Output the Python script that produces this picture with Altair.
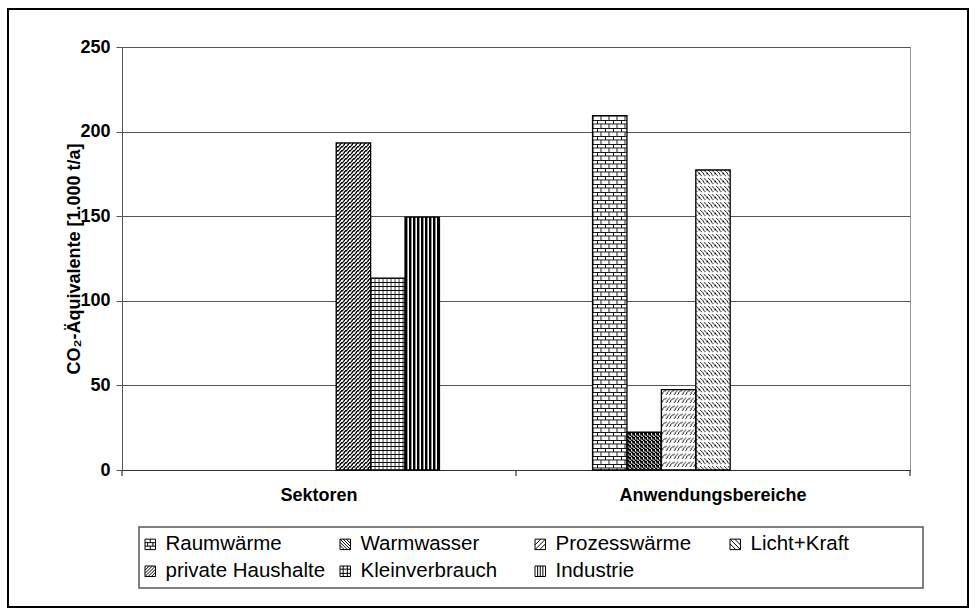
import altair as alt
import pandas as pd
from urllib.parse import quote

# ---------------- data ----------------
categories = ["Sektoren", "Anwendungsbereiche"]
series = ["Raumwärme", "Warmwasser", "Prozesswärme", "Licht+Kraft",
          "private Haushalte", "Kleinverbrauch", "Industrie"]
sektoren_values = [None, None, None, None, 193.3, 113.4, 149.5]
anwendung_values = [209.5, 22.3, 47.5, 177.3, None, None, None]
y_ticks = [0, 50, 100, 150, 200, 250]
y_title = "CO₂-Äquivalente [1.000 t/a]"

# ---------------- styles (pattern fills) ----------------
def tile_url(size, black):
    path = "".join(f"M{x} {y}h1v1h-1z" for x, y in black)
    svg = ("<svg xmlns='http://www.w3.org/2000/svg' width='100%' height='100%' shape-rendering='crispEdges'>"
           f"<defs><pattern id='p' width='{size}' height='{size}' patternUnits='userSpaceOnUse'>"
           f"<rect width='{size}' height='{size}' fill='white'/><path d='{path}' fill='black'/></pattern></defs>"
           "<rect width='100%' height='100%' fill='url(#p)'/></svg>")
    return "data:image/svg+xml;charset=utf-8," + quote(svg)

def px(n, cond):
    return [(x, y) for x in range(n) for y in range(n) if cond(x, y)]

brick = [(x, 0) for x in range(8)] + [(x, 4) for x in range(8)] + \
        [(0, 1), (0, 2), (0, 3), (4, 5), (4, 6), (4, 7)]

pattern_url = {
    "Raumwärme": tile_url(8, brick),
    "Warmwasser": tile_url(4, px(4, lambda x, y: (x - y) % 4 in (0, 1) or (x + y) % 4 == 0)),
    "Prozesswärme": tile_url(8, px(8, lambda x, y: (x + y) % 4 == 0 and y % 8 < 5)),
    "Licht+Kraft": tile_url(8, px(8, lambda x, y: (x - y) % 4 == 0 and y % 8 < 6)),
    "private Haushalte": tile_url(4, px(4, lambda x, y: (x + y) % 4 in (0, 1))),
    "Kleinverbrauch": tile_url(4, px(4, lambda x, y: x % 4 == 0 or y % 4 == 0)),
    "Industrie": tile_url(4, px(4, lambda x, y: x % 4 in (0, 1))),
}

# legend swatch shapes (SVG paths in the unit square [-1, 1])
SQUARE = "M-1,-1L1,-1L1,1L-1,1Z"

def down_lines(cs):
    out = ""
    for c in cs:
        y0, y1 = max(-1, -1 - c), min(1, 1 - c)
        out += f"M{y0 + c:.2f},{y0:.2f}L{y1 + c:.2f},{y1:.2f}"
    return out

def up_lines(cs):
    out = ""
    for c in cs:
        y0, y1 = max(-1, c - 1), min(1, c + 1)
        out += f"M{c - y0:.2f},{y0:.2f}L{c - y1:.2f},{y1:.2f}"
    return out

def vlines(xs):
    return "".join(f"M{x},-1L{x},1" for x in xs)

def hlines(ys):
    return "".join(f"M-1,{y}L1,{y}" for y in ys)

legend_shape = {
    "Raumwärme": SQUARE + hlines([-0.33, 0.33]) + "M0,-1L0,-0.33M-0.5,-0.33L-0.5,0.33M0.5,-0.33L0.5,0.33M0,0.33L0,1",
    "Warmwasser": SQUARE + down_lines([-1.2, -0.6, 0.0, 0.6, 1.2]),
    "Prozesswärme": SQUARE + up_lines([-0.9, 0.0, 0.9]),
    "Licht+Kraft": SQUARE + down_lines([-0.9, 0.0, 0.9]),
    "private Haushalte": SQUARE + up_lines([-1.2, -0.6, 0.0, 0.6, 1.2]),
    "Kleinverbrauch": SQUARE + vlines([-0.4, 0.4]) + hlines([-0.4, 0.4]),
    "Industrie": SQUARE + vlines([-0.5, 0, 0.5]),
}

# ---------------- table ----------------
rows = []
for cat, vals in zip(categories, [sektoren_values, anwendung_values]):
    for s, v in zip(series, vals):
        if v is not None:
            rows.append({"category": cat, "series": s, "value": v, "url": pattern_url[s]})
df = pd.DataFrame(rows)

FONT = "Liberation Sans"
W, H = 788, 423

x_enc = alt.X("category:N", sort=categories,
              scale=alt.Scale(domain=categories, paddingInner=0.3886, paddingOuter=0.1943),
              axis=alt.Axis(title=None, labelFont=FONT, labelFontSize=18, labelFontWeight="bold",
                            labelColor="black", labelAngle=0, labelPadding=16, labelLimit=1000,
                            ticks=False, domainColor="#333", domainWidth=1.2))
xo_enc = alt.XOffset("series:N", sort=series,
                     scale=alt.Scale(domain=series, paddingInner=0, paddingOuter=0))
y_enc = alt.Y("value:Q", scale=alt.Scale(domain=[0, 250], nice=False),
              axis=alt.Axis(values=y_ticks, title=y_title, grid=True, gridColor="#555", gridWidth=1.1,
                            labelFont=FONT, labelFontSize=18, labelFontWeight="bold", labelColor="black",
                            labelPadding=6, tickSize=6, tickColor="#555", domainColor="#555",
                            titleFont=FONT, titleFontSize=18, titleFontWeight="bold", titleColor="black",
                            titleAngle=270, titleX=-48, titleY=H / 2, titleAlign="center",
                            titleBaseline="middle"))

base = alt.Chart(df).encode(x=x_enc, xOffset=xo_enc, y=y_enc)

images = base.mark_image(aspect=False).encode(y2=alt.datum(0), url=alt.Url("url:N"))
outlines = base.mark_bar(fillOpacity=0, stroke="black", strokeWidth=1.3).encode(y2=alt.datum(0))
points = base.mark_point(opacity=0).encode(
    shape=alt.Shape("series:N", sort=series,
                    scale=alt.Scale(domain=series, range=[legend_shape[s] for s in series]),
                    legend=alt.Legend(title=None, orient="none", legendX=17, legendY=480,
                                      direction="horizontal", columns=4, gridAlign="all",
                                      symbolSize=110, symbolStrokeWidth=1, symbolStrokeColor="black",
                                      symbolFillColor="white", symbolOpacity=1, symbolOffset=-6,
                                      labelFont=FONT, labelFontSize=20.5, labelColor="black",
                                      labelOffset=5, labelLimit=400,
                                      columnPadding=12, rowPadding=6, padding=7)))

# decoration: outer frame, legend box and category-boundary ticks of the x axis
deco_df = pd.DataFrame({"k": [0]})
deco = alt.Chart(deco_df)
frame = deco.mark_rect(fillOpacity=0, stroke="black", strokeWidth=2).encode(
    x=alt.value(-114), x2=alt.value(846), y=alt.value(-38), y2=alt.value(560))
legend_box = deco.mark_rect(fillOpacity=0, stroke="#555", strokeWidth=1.5).encode(
    x=alt.value(17), x2=alt.value(801), y=alt.value(480), y2=alt.value(541))
ticks = [deco.mark_rule(color="#333", strokeWidth=1.2).encode(
    x=alt.value(p), y=alt.value(H), y2=alt.value(H + 6)) for p in (0, W / 2, W)]

chart = alt.layer(frame, legend_box, *ticks, images, outlines, points).properties(
    width=W, height=H,
    autosize=alt.AutoSizeParams(type="none"),
    padding={"left": 122, "top": 47, "right": 66, "bottom": 146},
    background="white",
).configure_view(stroke="#999", strokeWidth=1)

chart.save("out.html", embed_options={"renderer": "svg", "actions": False})
